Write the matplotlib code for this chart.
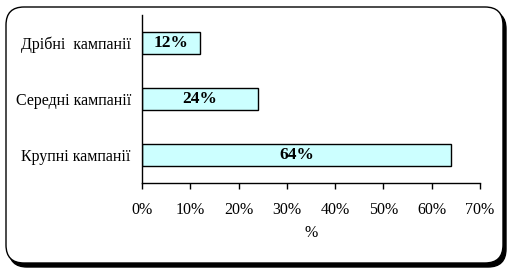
import matplotlib
matplotlib.use('Agg')
import matplotlib.pyplot as plt
from matplotlib.patches import FancyBboxPatch
from matplotlib.ticker import FuncFormatter

categories = ['Крупні кампанії', 'Середні кампанії', 'Дрібні  кампанії']
values = [64, 24, 12]
x_ticks = [0, 10, 20, 30, 40, 50, 60, 70]

plt.rcParams['font.family'] = ['Liberation Serif', 'DejaVu Serif']

fig = plt.figure(figsize=(5.14, 2.70), dpi=100)
W, H = 514, 270

# rounded frame with shadow
shadow = FancyBboxPatch((9 / W, 3 / H), 497 / W, 256 / H,
                        boxstyle='round,pad=0,rounding_size=0.035',
                        transform=fig.transFigure, facecolor='black',
                        edgecolor='black', zorder=0, mutation_aspect=W / H)
frame = FancyBboxPatch((6 / W, 7 / H), 497 / W, 256 / H,
                       boxstyle='round,pad=0,rounding_size=0.035',
                       transform=fig.transFigure, facecolor='white',
                       edgecolor='black', linewidth=1.0, zorder=1,
                       mutation_aspect=W / H)
fig.patches.extend([shadow, frame])

ax = fig.add_axes([142 / W, 1 - 183 / H, 338 / W, 168 / H])
ax.set_zorder(2)
ax.patch.set_alpha(0)

ypos = range(len(categories))
ax.barh(ypos, values, height=0.4, color='#CCFFFF', edgecolor='black', linewidth=1.0)
for y, v in zip(ypos, values):
    ax.text(v / 2, y, f'{v}%', ha='center', va='center', fontsize=12.5, fontweight='bold')

ax.set_xlim(0, 70)
ax.set_ylim(-0.5, 2.5)
ax.set_xticks(x_ticks)
ax.xaxis.set_major_formatter(FuncFormatter(lambda v, p: f'{int(v)}%'))
ax.set_yticks(list(ypos))
ax.set_yticklabels(categories)
ax.tick_params(axis='y', length=0, pad=8, labelsize=11.5)
ax.tick_params(axis='x', length=4, width=1, pad=10, labelsize=11.5)
ax.set_xlabel('%', fontsize=11.5, labelpad=5)
for s in ['top', 'right']:
    ax.spines[s].set_visible(False)
for s in ['left', 'bottom']:
    ax.spines[s].set_linewidth(1.0)

fig.savefig('out.png', dpi=100)
